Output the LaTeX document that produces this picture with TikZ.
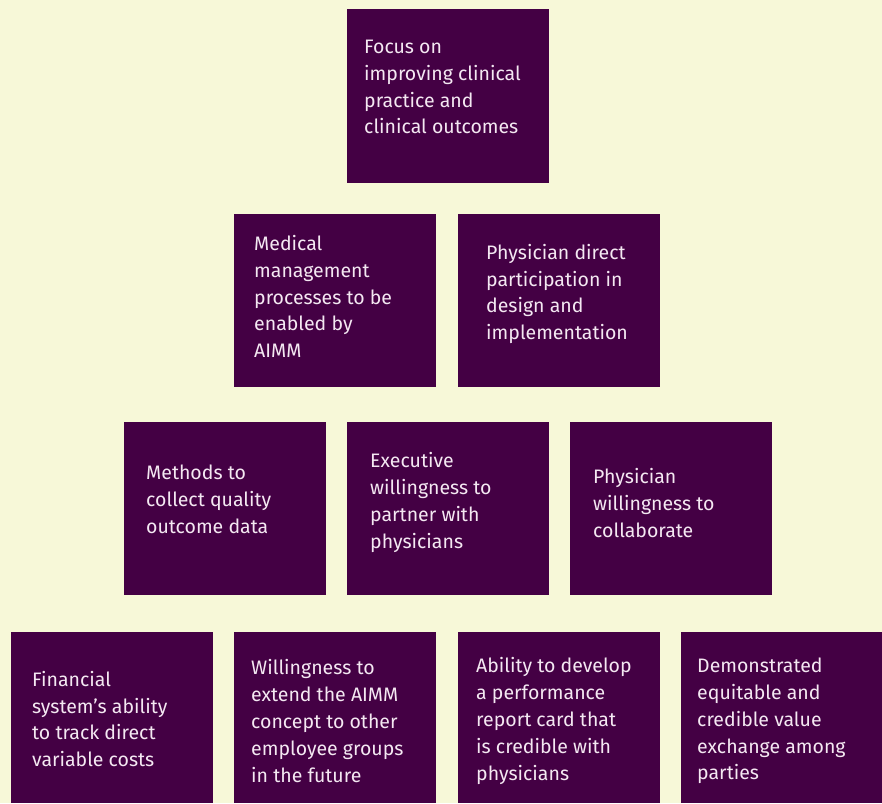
\documentclass[tikz,border=0pt]{standalone}
\usepackage{fontspec}
\setmainfont{Fira Sans}
\definecolor{bg}{HTML}{F7F8D8}
\definecolor{boxc}{HTML}{440044}
\definecolor{txt}{HTML}{F4E8F2}
\begin{document}
\begin{tikzpicture}[x=1pt,y=-1pt,
  cell/.style={fill=boxc,draw=none},
  lbl/.style={anchor=west,inner sep=0pt,align=left,text=txt,font=\fontsize{19.5}{26.8}\selectfont}]
\fill[bg] (0,0) rectangle (882,803);
\useasboundingbox (0,0) rectangle (882,803);
% row 1
\fill[cell] (347,9) rectangle (549,183) coordinate (b1);
\node[lbl] (t1) at (364,87) {Focus on\\improving clinical\\practice and\\clinical outcomes};
% row 2
\fill[cell] (234,214) rectangle (436,387);
\node[lbl] (t2a) at (254,296.5) {Medical\\management\\processes to be\\enabled by\\AIMM};
\fill[cell] (458,214) rectangle (660,387);
\node[lbl] (t2b) at (486,294) {Physician direct\\participation in\\design and\\implementation};
% row 3
\fill[cell] (124,422) rectangle (326,595);
\node[lbl] (t3a) at (146,499.5) {Methods to\\collect quality\\outcome data};
\fill[cell] (347,422) rectangle (549,595);
\node[lbl] (t3b) at (370,502.5) {Executive\\willingness to\\partner with\\physicians};
\fill[cell] (570,422) rectangle (772,595);
\node[lbl] (t3c) at (593,503) {Physician\\willingness to\\collaborate};
% row 4
\fill[cell] (11,632) rectangle (213,803);
\node[lbl] (t4a) at (32,719) {Financial\\system's ability\\to track direct\\variable costs};
\fill[cell] (234,632) rectangle (436,803);
\node[lbl] (t4b) at (251,721) {Willingness to\\extend the AIMM\\concept to other\\employee groups\\in the future};
\fill[cell] (458,632) rectangle (660,803);
\node[lbl] (t4c) at (476,721) {Ability to develop\\a performance\\report card that\\is credible with\\physicians};
\fill[cell] (681,632) rectangle (882,803);
\node[lbl] (t4d) at (697,721) {Demonstrated\\equitable and\\credible value\\exchange among\\parties};
\end{tikzpicture}
\end{document}
